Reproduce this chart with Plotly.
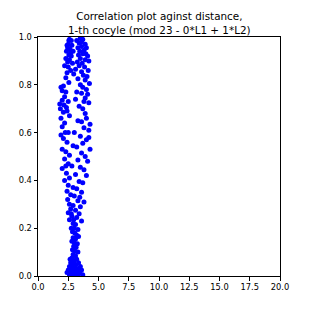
import plotly.graph_objects as go

pts = [
(2.6,0.99),(2.75,0.985),(3.5,0.995),(3.7,0.99),(2.5,0.97),(2.8,0.965),(3.4,0.975),(3.9,0.97),
(2.45,0.955),(2.65,0.95),(3.3,0.955),(3.6,0.96),(4.0,0.955),(2.35,0.94),(2.9,0.94),(3.45,0.94),
(3.8,0.945),(2.55,0.925),(2.75,0.92),(3.35,0.925),(3.7,0.93),(4.1,0.92),(2.3,0.91),(2.6,0.905),
(3.5,0.91),(3.9,0.905),(2.45,0.895),(2.85,0.89),(3.25,0.895),(3.65,0.89),(4.2,0.9),(2.2,0.88),
(2.5,0.875),(3.4,0.88),(3.85,0.875),(2.7,0.86),(3.1,0.865),(3.6,0.855),(4.15,0.86),(2.4,0.85),
(2.95,0.845),(3.75,0.84),(4.05,0.835),(2.3,0.83),(3.3,0.825),(3.9,0.82),(2.55,0.81),(3.5,0.8),
(4.25,0.805),(1.9,0.79),(2.1,0.795),(3.7,0.79),(4.0,0.78),(2.0,0.775),(2.3,0.77),(3.2,0.77),
(3.6,0.765),(4.1,0.76),(2.2,0.75),(3.9,0.745),(2.0,0.735),(2.5,0.73),(3.1,0.74),(3.8,0.73),
(4.2,0.725),(1.8,0.72),(2.15,0.715),(2.35,0.705),(3.4,0.71),(3.7,0.7),(2.4,0.69),(2.1,0.685),
(3.9,0.68),(2.6,0.67),(4.0,0.66),(1.9,0.66),(3.3,0.65),(3.6,0.645),(2.2,0.64),(4.3,0.635),
(2.0,0.625),(3.8,0.62),(4.2,0.61),(2.5,0.6),(3.0,0.6),(1.9,0.59),(3.5,0.585),(2.1,0.575),
(4.0,0.57),(2.4,0.56),(3.7,0.555),(2.9,0.545),(3.2,0.54),(2.0,0.53),(4.3,0.53),(2.3,0.52),
(3.6,0.515),(2.6,0.505),(3.9,0.5),(2.2,0.49),(3.3,0.485),(4.1,0.48),(2.5,0.47),(2.8,0.46),
(3.5,0.455),(2.0,0.45),(3.8,0.445),(2.35,0.43),(3.1,0.425),(4.0,0.42),(2.6,0.41),(2.2,0.4),
(3.4,0.395),(3.7,0.39),(2.5,0.38),(2.9,0.37),(3.2,0.365),(2.4,0.355),(3.6,0.35),(2.7,0.34),
(3.0,0.335),(2.45,0.32),(3.3,0.315),(3.8,0.31),(2.6,0.3),(2.9,0.295),(3.5,0.29),(2.7,0.28),
(3.1,0.275),(2.5,0.265),(3.4,0.26),(2.8,0.25),(3.2,0.245),(2.6,0.235),(3.6,0.23),(2.9,0.22),
(3.1,0.215),(2.75,0.2),(3.3,0.195),(2.85,0.185),(3.05,0.18),(3.2,0.17),(2.9,0.16),(3.1,0.155),
(2.8,0.145),(3.0,0.14),(3.25,0.135),(2.95,0.125),(3.15,0.12),(2.85,0.11),(3.05,0.105),(3.3,0.1),
(2.9,0.09),(3.1,0.085),(2.8,0.075),(3.2,0.07),(3.0,0.065),(2.7,0.055),(3.35,0.055),(2.9,0.05),
(3.1,0.045),(2.6,0.04),(3.5,0.04),(2.8,0.035),(3.3,0.03),(2.5,0.025),(3.0,0.025),(3.6,0.025),
(2.7,0.02),(3.2,0.015),(2.4,0.015),(3.4,0.01),(2.9,0.01),(2.6,0.005),(3.1,0.005),(3.7,0.005),
(2.8,0.0),(3.3,0.0),(2.55,0.985),(3.6,0.98),(2.7,0.935),(3.95,0.93),(2.4,0.965),(3.2,0.985),
(3.05,0.12),(2.95,0.06),(3.15,0.03),(3.0,0.2),(2.75,0.26),(3.45,0.33),(2.3,0.46),(4.2,0.58),
(1.85,0.7),(2.25,0.6),(3.0,0.03),(2.9,0.015),(3.45,0.015),(2.65,0.07),(3.35,0.165),(2.95,0.235),
]
x_vals = [p[0] for p in pts]
y_vals = [p[1] for p in pts]

x_ticks = [0, 2.5, 5, 7.5, 10, 12.5, 15, 17.5, 20]
x_labels = ["0.0", "2.5", "5.0", "7.5", "10.0", "12.5", "15.0", "17.5", "20.0"]
y_ticks = [0, 0.2, 0.4, 0.6, 0.8, 1.0]
y_labels = ["0.0", "0.2", "0.4", "0.6", "0.8", "1.0"]
title_lines = ["Correlation plot aginst distance,", "1-th cocyle (mod 23 - 0*L1 + 1*L2)"]

fig = go.Figure(go.Scatter(x=x_vals, y=y_vals, mode="markers",
                           marker=dict(color="#0000ff", size=5, line=dict(width=0))))
axis_common = dict(showline=True, linecolor="black", linewidth=1, mirror=True,
                   ticks="outside", ticklen=3.5, tickwidth=1, tickcolor="black",
                   showgrid=False, zeroline=False, automargin=False,
                   tickfont=dict(family="DejaVu Sans", size=8.3, color="black"))
fig.update_layout(
    width=303, height=303,
    margin=dict(l=30, r=31, t=29, b=35, autoexpand=False),
    plot_bgcolor="white", paper_bgcolor="white",
    showlegend=False,
    xaxis=dict(range=[0, 20], tickvals=x_ticks, ticktext=x_labels, **axis_common),
    yaxis=dict(range=[0, 1], tickvals=y_ticks, ticktext=y_labels, **axis_common),
    annotations=[dict(text="<br>".join(title_lines), xref="paper", yref="paper",
                      x=0.5, y=1.0, xanchor="center", yanchor="bottom", yshift=-1,
                      showarrow=False, align="center",
                      font=dict(family="DejaVu Sans", size=10.4, color="black"))],
)
fig.write_html("out.html")
